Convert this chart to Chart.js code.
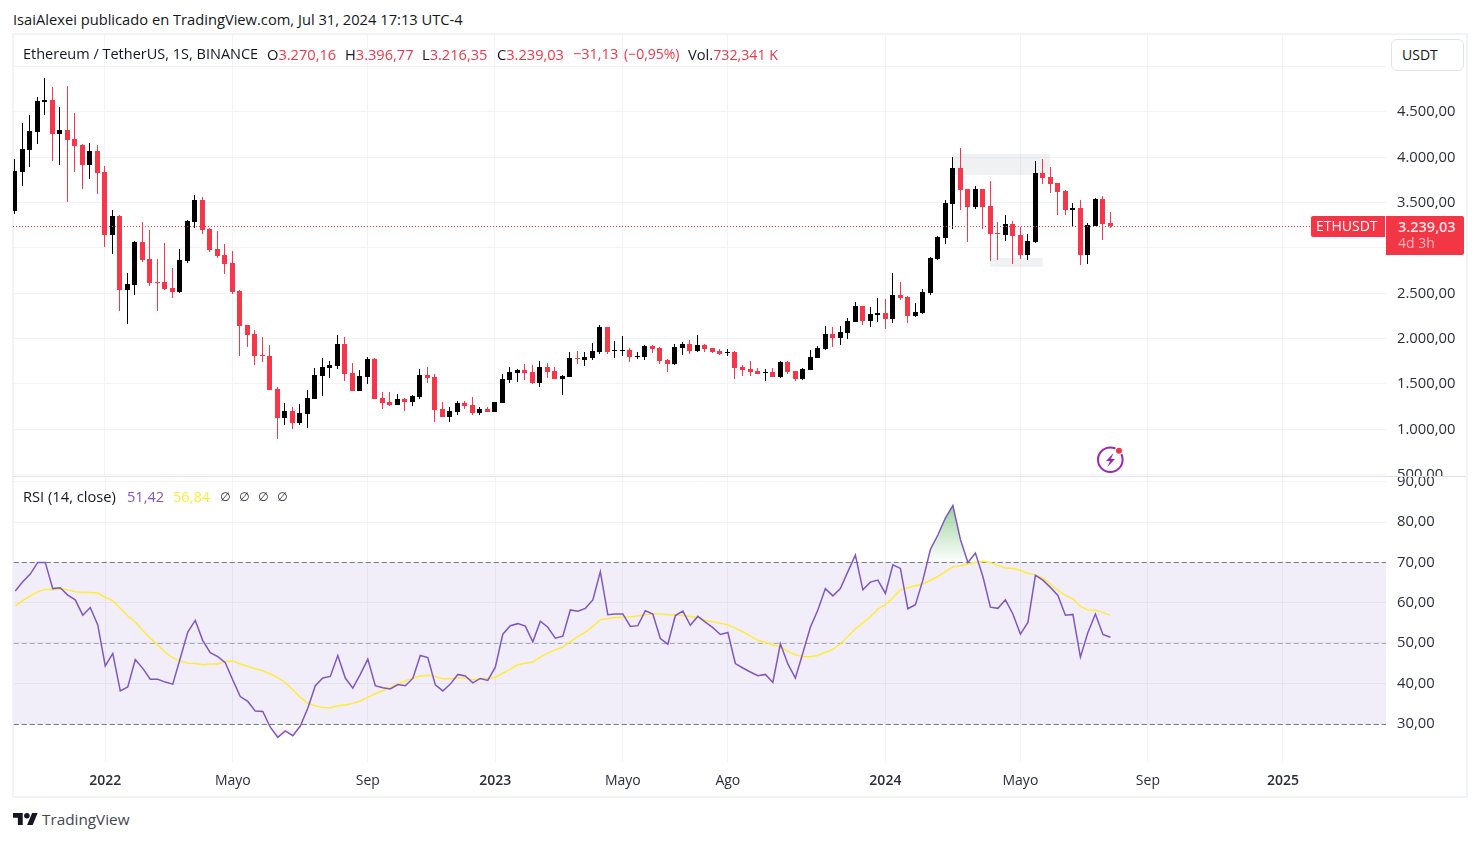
<!DOCTYPE html>
<html lang="es">
<head>
<meta charset="utf-8">
<title>ETHUSDT</title>
<script src="https://cdn.jsdelivr.net/npm/chart.js@4/dist/chart.umd.min.js"></script>
<style>
  html, body { margin: 0; padding: 0; background: #fff; width: 1481px; height: 841px; overflow: hidden; }
  body { font: 14.7px "Open Sans", sans-serif; color: #131722; position: relative; }
  canvas { position: absolute; left: 13px; }
  #priceCanvas { top: 35px; }
  #rsiCanvas { top: 465px; }
  .t { position: absolute; white-space: nowrap; line-height: 18px; }
  .red { color: #f23645; }
  .num { font-size: 14.6px; }
  .nil { font: 12px "DejaVu Sans", sans-serif; line-height: 18px; color: #2a2e39; }
  #frame { position: absolute; left: 12px; top: 33px; width: 1456px; height: 765px; box-sizing: border-box; border: 2px solid #f0f3fa; }
  #sep { position: absolute; left: 13px; top: 476px; width: 1453px; height: 1px; background: #e0e3eb; }
  #unit { position: absolute; left: 1391px; top: 39px; width: 73px; height: 32px; box-sizing: border-box; border: 1px solid #e0e3eb; border-radius: 6px; background: #fff; padding: 6px 0 0 10px; line-height: 18px; font-size: 14px; }
  .tag { position: absolute; background: #f23645; color: #fff; }
</style>
</head>
<body>
<div id="frame"></div>
<canvas id="priceCanvas" width="1453" height="441"></canvas>
<canvas id="rsiCanvas" width="1453" height="332"></canvas>
<div id="sep"></div>

<div class="t" style="left:13px;top:10px">IsaiAlexei publicado en TradingView.com, Jul 31, 2024 17:13 UTC-4</div>

<div class="t" style="left:23px;top:45px;font-size:14.5px">Ethereum / TetherUS, 1S, BINANCE</div>
<div class="t" style="left:267px;top:45px">O<span class="red num">3.270,16</span></div>
<div class="t" style="left:345px;top:45px">H<span class="red num">3.396,77</span></div>
<div class="t" style="left:422px;top:45px">L<span class="red num">3.216,35</span></div>
<div class="t" style="left:497px;top:45px">C<span class="red num">3.239,03</span></div>
<div class="t red" style="left:573px;top:45px;font-size:14.5px">−31,13</div>
<div class="t red" style="left:624px;top:45px;font-size:14px">(−0,95%)</div>
<div class="t" style="left:688px;top:45px">Vol.<span class="red" style="font-size:14.2px">732,341 K</span></div>
<div id="unit">USDT</div>

<div class="tag" style="left:1311px;top:216px;width:74px;height:21px;border-radius:2px 0 0 2px"><span class="t" style="left:5px;top:1px;font-size:14px">ETHUSDT</span></div>
<div class="tag" style="left:1386px;top:216px;width:78px;height:39px;border-radius:0 2px 2px 0">
  <span class="t" style="left:12px;top:2px;color:#ffe4e7;font-weight:600;font-size:14.5px">3.239,03</span>
  <span class="t" style="left:12px;top:18px;color:#fbb9c0;font-size:14px">4d 3h</span>
</div>

<div class="t" style="left:23px;top:487px">RSI (14, close)</div>
<div class="t num" style="left:127px;top:487px;color:#7e57c2">51,42</div>
<div class="t num" style="left:173px;top:487px;color:#ffeb3b">56,84</div>
<div class="t nil" style="left:220px;top:488px">∅</div>
<div class="t nil" style="left:239px;top:488px">∅</div>
<div class="t nil" style="left:258px;top:488px">∅</div>
<div class="t nil" style="left:277px;top:488px">∅</div>

<svg style="position:absolute;left:1095px;top:445px" width="32" height="30" viewBox="0 0 32 30">
  <circle cx="15.3" cy="14.7" r="12.3" fill="none" stroke="#9c27b0" stroke-width="2"/>
  <path d="M18.5 8 11 16h4l-2.5 6 7.5-8h-4z" fill="#9c27b0"/>
  <circle cx="24" cy="5.7" r="4.2" fill="#fff"/>
  <circle cx="24" cy="5.7" r="3" fill="#f23645"/>
</svg>

<svg style="position:absolute;left:13px;top:812.5px" width="25" height="12.5" viewBox="0 4 36 18">
  <path fill="#131722" d="M14 22H7V11H0V4h14v18zM28 22h-8l7.5-18h8L28 22z"/>
  <circle fill="#131722" cx="20" cy="8" r="4"/>
</svg>
<div class="t" style="left:42px;top:810px;font-size:15.3px;color:#434651">TradingView</div>

<script>
// ── Weekly candles ───────────────────────────────────────────────────────────

const opens = [
  3407,3838,4080,4279,4610,4632,4257,4301,4202,4135,
  3915,4069,3838,3143,3352,2536,2591,3065,2878,2624,
  2624,2558,2514,2856,3286,3529,3209,2988,2922,2834,
  2525,2150,2051,1819,1808,1444,1124,1202,1069,1169,
  1334,1588,1676,1698,1941,1621,1422,1577,1775,1345,
  1301,1268,1334,1301,1356,1599,1577,1224,1135,1191,
  1290,1268,1180,1224,1191,1290,1544,1621,1654,1632,
  1510,1687,1643,1555,1577,1786,1764,1786,1852,2128,
  1867,1867,1874,1797,1797,1919,1897,1764,1720,1897,
  1941,1863,1930,1897,1863,1845,1852,1687,1665,1643,
  1625,1632,1577,1742,1643,1555,1654,1786,1885,2051,
  2007,2062,2183,2360,2194,2260,2282,2216,2481,2459,
  2250,2283,2503,2878,3110,3485,3882,3650,3452,3650,
  3463,3165,3143,3264,3143,2922,3066,3827,3783,3717,
  3628,3419,3441,2922,3242,3540,3270.16
];
const highs = [
  3981,4378,4466,4661,4874,4775,4555,4786,4488,4146,
  4157,4135,3904,3418,3360,2720,3073,3282,3198,2878,
  3054,2779,2988,3308,3584,3562,3220,3187,3043,2966,
  2536,2150,2095,2018,1930,1466,1290,1246,1279,1433,
  1676,1786,1753,2040,2018,1731,1654,1797,1786,1411,
  1411,1389,1345,1378,1665,1687,1610,1301,1246,1312,
  1312,1356,1246,1246,1301,1610,1687,1665,1720,1709,
  1753,1731,1687,1599,1852,1863,1852,1952,2150,2128,
  1974,2029,1897,1852,1930,1930,1908,1775,1941,1963,
  1985,2040,1941,1897,1885,1885,1863,1709,1753,1676,
  1665,1676,1753,1753,1643,1676,1874,1919,2139,2128,
  2139,2227,2404,2360,2349,2448,2437,2724,2625,2470,
  2393,2547,2900,3132,3529,4003,4103,3650,3684,3650,
  3739,3286,3364,3297,3231,3154,3959,3981,3893,3717,
  3639,3496,3529,3275,3551,3573,3396.77
];
const lows = [
  3378,3683,3893,4146,4466,3959,3915,3507,3838,3650,
  3760,3595,3010,2933,2305,2161,2481,2845,2580,2305,
  2536,2448,2503,2834,3220,3154,2955,2889,2712,2492,
  1808,1908,1709,1742,1433,893,1047,1003,1047,1014,
  1334,1367,1566,1665,1533,1422,1422,1500,1334,1224,
  1257,1268,1202,1257,1334,1511,1080,1135,1080,1158,
  1224,1158,1158,1191,1191,1290,1511,1522,1544,1503,
  1466,1566,1555,1378,1577,1720,1698,1764,1830,1830,
  1786,1808,1742,1775,1764,1841,1720,1632,1709,1819,
  1830,1852,1852,1841,1819,1808,1555,1588,1588,1610,
  1533,1577,1566,1610,1533,1544,1654,1786,1874,1908,
  1930,1996,2183,2150,2128,2183,2106,2172,2426,2172,
  2238,2272,2481,2867,3044,3209,3419,3066,3430,3209,
  2856,2867,3077,2823,2878,2867,3055,3706,3606,3364,
  3364,3242,2812,2823,3242,3088,3216.35
];
const closes = [
  3849,4091,4290,4621,4632,4257,4301,4191,4124,3915,
  4069,3826,3143,3352,2536,2602,3065,2867,2613,2613,
  2547,2514,2867,3297,3529,3198,2977,2911,2823,2514,
  2139,2040,1808,1808,1433,1124,1202,1069,1180,1345,
  1599,1687,1709,1941,1610,1422,1588,1775,1334,1290,
  1268,1334,1301,1367,1599,1566,1213,1135,1202,1290,
  1257,1180,1224,1191,1301,1555,1632,1654,1621,1510,
  1687,1632,1555,1588,1786,1775,1797,1863,2128,1852,
  1874,1874,1797,1804,1919,1885,1753,1720,1908,1941,
  1863,1930,1885,1852,1830,1852,1676,1654,1632,1610,
  1632,1577,1742,1632,1555,1665,1797,1897,2051,2007,
  2073,2194,2360,2194,2271,2282,2216,2481,2448,2250,
  2294,2514,2889,3121,3496,3882,3639,3452,3650,3452,
  3154,3154,3264,3132,2922,3077,3827,3772,3706,3617,
  3419,3441,2922,3253,3540,3264,3239.03
];

// ── RSI and its moving average ───────────────────────────────────────────────

const rsiValues = [
  62.9,65.2,67.1,70.0,70.0,63.5,63.7,61.9,60.7,56.9,
  58.8,54.5,44.3,47.4,38.1,39.1,45.9,43.7,41.0,41.0,
  40.3,39.8,46.2,52.7,55.6,50.6,47.6,46.6,45.1,40.8,
  36.7,35.5,33.1,33.0,29.1,26.6,28.2,27.0,29.4,33.8,
  39.4,41.3,41.7,46.9,41.3,38.8,42.2,46.0,39.4,38.9,
  38.6,39.7,39.4,41.2,46.9,46.4,39.6,38.1,39.8,42.2,
  41.8,40.1,41.2,40.7,44.0,52.2,54.3,54.8,54.2,50.3,
  55.4,53.9,51.2,51.7,58.2,57.9,58.6,60.7,67.7,57.0,
  57.2,57.2,54.1,54.3,58.0,57.2,51.1,49.7,56.8,57.9,
  54.4,56.6,55.2,53.8,52.1,52.6,44.9,43.8,42.8,41.9,
  42.2,40.2,49.8,44.8,41.3,47.5,53.9,58.2,63.5,61.7,
  63.5,67.7,71.8,63.2,65.1,65.6,62.3,69.4,68.5,58.5,
  59.5,65.6,73.2,76.8,81.0,84.1,75.7,70.0,72.3,66.5,
  58.9,58.6,60.7,57.2,52.2,55.1,66.8,65.6,63.8,61.8,
  56.9,57.1,46.5,52.6,57.2,52.1,51.42
];
const maValues = [
  59.2,60.5,61.7,62.7,63.3,63.3,63.4,63.2,62.7,62.5,
  62.5,62.4,61.3,60.5,58.6,56.7,55.2,53.1,51.2,49.5,
  47.7,46.3,45.5,45.0,44.9,44.6,44.8,44.8,45.4,45.5,
  44.8,44.2,43.6,43.1,42.3,41.4,40.2,38.4,36.5,35.1,
  34.4,34.0,33.9,34.4,34.6,35.0,35.6,36.5,37.4,38.2,
  39.0,39.8,40.6,41.3,41.8,42.0,41.7,41.1,41.1,41.3,
  41.3,40.9,41.2,41.2,41.5,42.5,43.5,44.6,45.0,45.3,
  46.5,47.5,48.3,49.0,50.3,51.6,52.7,54.1,55.8,56.1,
  56.3,56.4,56.5,56.7,57.0,57.2,57.2,57.0,57.0,56.8,
  56.6,56.4,55.6,55.3,54.9,54.5,53.7,52.8,51.7,50.7,
  50.2,49.5,49.1,48.0,47.1,46.6,46.6,46.9,47.7,48.4,
  49.8,51.6,53.5,55.0,56.5,58.4,59.5,61.2,63.2,63.7,
  64.2,64.7,65.5,66.5,67.7,68.9,69.1,69.6,70.0,70.3,
  70.0,69.2,68.6,68.5,68.0,67.3,66.9,66.1,64.7,63.1,
  61.8,61.0,59.1,58.2,58.1,57.6,56.84
];

// ── Axis ticks ───────────────────────────────────────────────────────────────

const priceTicks = [5000, 4500, 4000, 3500, 3000, 2500, 2000, 1500, 1000, 500];
const rsiTicks = [90, 80, 70, 60, 50, 40, 30];
const weekTicks = [12, 29, 47, 64, 81, 95, 116, 134, 151, 169];
const weekLabels = ["2022", "Mayo", "Sep", "2023", "Mayo", "Ago", "2024", "Mayo", "Sep", "2025"];

// ── Drawn ranges on the price pane (weeks and prices) ────────────────────────

const zoneFrom = [125, 130];
const zoneTo = [138, 137];
const zoneHigh = [4037, 2889];
const zoneLow = [3805, 2790];

const lastClose = closes[closes.length - 1];
const rsiBand = [30, 70];
const rsiLevels = [70, 50, 30];

// ── Shared bits ──────────────────────────────────────────────────────────────

const UP = "#000000";
const DOWN = "#f5374a";
const GRID = "#f2f3f5";
const FONT = { family: '"Open Sans", sans-serif', size: 14.8 };
const TEXT = "#2a2e39";

// the axes are fitted so one week is about 7.5px, same as the picture
const WEEK_MIN = -0.2;
const WEEK_MAX = 182.74;

const candleColor = ctx => closes[ctx.dataIndex] >= opens[ctx.dataIndex] ? UP : DOWN;

function numberEs(v) {
  return v.toLocaleString("de-DE", { minimumFractionDigits: 2, maximumFractionDigits: 2 });
}

function xAxis(extra, height) {
  return {
    type: "linear", min: WEEK_MIN, max: WEEK_MAX, offset: false,
    grid: { color: GRID, drawTicks: false, offset: false },
    border: { display: false },
    afterBuildTicks: s => { s.ticks = weekTicks.map(v => ({ value: v })); },
    afterFit: s => { s.height = height; s.paddingLeft = 0; s.paddingRight = 0; },
    ...extra
  };
}

function yAxis(min, max, values, format) {
  return {
    position: "right", min, max,
    grid: { color: GRID, drawTicks: false },
    border: { display: false },
    afterBuildTicks: s => { s.ticks = values.map(v => ({ value: v })); },
    // tick padding also counts as vertical padding, so drop it or the pane shrinks
    afterFit: s => { s.width = 80; s.paddingTop = 0; s.paddingBottom = 0; },
    ticks: { color: TEXT, font: FONT, padding: 11, autoSkip: false, callback: format }
  };
}

// Pixel-snap the candles so bodies and wicks stay crisp
const snapCandles = {
  id: "snapCandles",
  afterDatasetsUpdate(chart) {
    chart.getSortedVisibleDatasetMetas().forEach(meta => {
      meta.data.forEach(el => {
        el.x = Math.floor(el.x) + 0.5;
        el.y = Math.round(el.y);
        el.base = Math.round(el.base);
        if (el.y === el.base) el.base += 1;
      });
    });
  }
};

const priceOverlays = {
  id: "priceOverlays",
  beforeDatasetsDraw(chart) {
    const { ctx, scales: { x, y } } = chart;
    ctx.save();
    ctx.fillStyle = "rgba(120,123,134,0.11)";
    zoneFrom.forEach((from, i) => {
      const left = x.getPixelForValue(from);
      const top = y.getPixelForValue(zoneHigh[i]);
      ctx.fillRect(left, top, x.getPixelForValue(zoneTo[i]) - left, y.getPixelForValue(zoneLow[i]) - top);
    });
    ctx.restore();
  },
  afterDatasetsDraw(chart) {
    const { ctx, chartArea, scales: { y } } = chart;
    const py = Math.round(y.getPixelForValue(lastClose)) + 0.5;
    ctx.save();
    ctx.strokeStyle = DOWN;
    ctx.lineWidth = 1;
    ctx.setLineDash([1, 2]);
    ctx.beginPath();
    ctx.moveTo(chartArea.left, py);
    ctx.lineTo(1298, py);
    ctx.stroke();
    ctx.restore();
  }
};

const rsiOverlays = {
  id: "rsiOverlays",
  beforeDatasetsDraw(chart) {
    const { ctx, chartArea, scales: { y } } = chart;
    const top = y.getPixelForValue(rsiBand[1]);
    ctx.save();
    ctx.fillStyle = "rgba(126,87,194,0.1)";
    ctx.fillRect(chartArea.left, top, chartArea.width, y.getPixelForValue(rsiBand[0]) - top);
    ctx.setLineDash([5, 3]);
    ctx.lineWidth = 1;
    rsiLevels.forEach(level => {
      const py = Math.round(y.getPixelForValue(level)) + 0.5;
      ctx.strokeStyle = level === 50 ? "rgba(120,123,134,0.6)" : "#787b86";
      ctx.beginPath();
      ctx.moveTo(chartArea.left, py);
      ctx.lineTo(chartArea.right, py);
      ctx.stroke();
    });
    ctx.restore();
  }
};

// ── Price pane ───────────────────────────────────────────────────────────────

new Chart(document.getElementById("priceCanvas"), {
  type: "bar",
  data: {
    datasets: [
      {
        data: opens.map((o, i) => ({ x: i, y: [o, closes[i]] })),
        backgroundColor: candleColor, barThickness: 5, grouped: false, inflateAmount: 0
      },
      {
        data: lows.map((l, i) => ({ x: i, y: [l, highs[i]] })),
        backgroundColor: candleColor, barThickness: 1, grouped: false, inflateAmount: 0
      }
    ]
  },
  options: {
    responsive: false,
    animation: false,
    events: [],
    plugins: { legend: { display: false }, tooltip: { enabled: false } },
    scales: {
      x: xAxis({ ticks: { display: false } }, 0),
      y: yAxis(485, 5349, priceTicks, v => v === 5000 ? "" : numberEs(v))
    }
  },
  plugins: [snapCandles, priceOverlays]
});

// ── RSI pane ─────────────────────────────────────────────────────────────────

const rsiPoints = rsiValues.map((y, i) => ({ x: i, y }));

const rsiChart = new Chart(document.getElementById("rsiCanvas"), {
  type: "line",
  data: {
    datasets: [
      { data: rsiPoints, borderColor: "#7e57c2", borderWidth: 1.5, pointRadius: 0 },
      { data: maValues.map((y, i) => ({ x: i, y })), borderColor: "#ffeb3b", borderWidth: 1.5, pointRadius: 0 },
      { data: rsiPoints, borderWidth: 0, pointRadius: 0 },
      { data: rsiPoints, borderWidth: 0, pointRadius: 0 }
    ]
  },
  options: {
    responsive: false,
    animation: false,
    events: [],
    layout: { padding: { top: 12 } },
    plugins: { legend: { display: false }, tooltip: { enabled: false } },
    scales: {
      x: xAxis({
        ticks: {
          color: TEXT, padding: 11, autoSkip: false, maxRotation: 0,
          font: ctx => ({ ...FONT, size: 14, weight: /^\d/.test(weekLabels[ctx.index]) ? "600" : "400" }),
          callback: (v, i) => weekLabels[i]
        }
      }, 35),
      y: yAxis(20.47, 91.19, rsiTicks, v => numberEs(v))
    }
  },
  plugins: [rsiOverlays]
});

// Overbought / oversold shading needs the laid out scale for its gradients
(function shadeExtremes() {
  const { ctx, scales: { y } } = rsiChart;
  const over = ctx.createLinearGradient(0, y.getPixelForValue(84), 0, y.getPixelForValue(70));
  over.addColorStop(0, "rgba(76,175,80,0.55)");
  over.addColorStop(1, "rgba(76,175,80,0)");
  const under = ctx.createLinearGradient(0, y.getPixelForValue(30), 0, y.getPixelForValue(25));
  under.addColorStop(0, "rgba(255,82,82,0)");
  under.addColorStop(1, "rgba(255,82,82,0.2)");
  const sets = rsiChart.data.datasets;
  sets[2].fill = { target: { value: 70 }, above: over, below: "transparent" };
  sets[3].fill = { target: { value: 30 }, above: "transparent", below: under };
  rsiChart.update();
})();
</script>
</body>
</html>
